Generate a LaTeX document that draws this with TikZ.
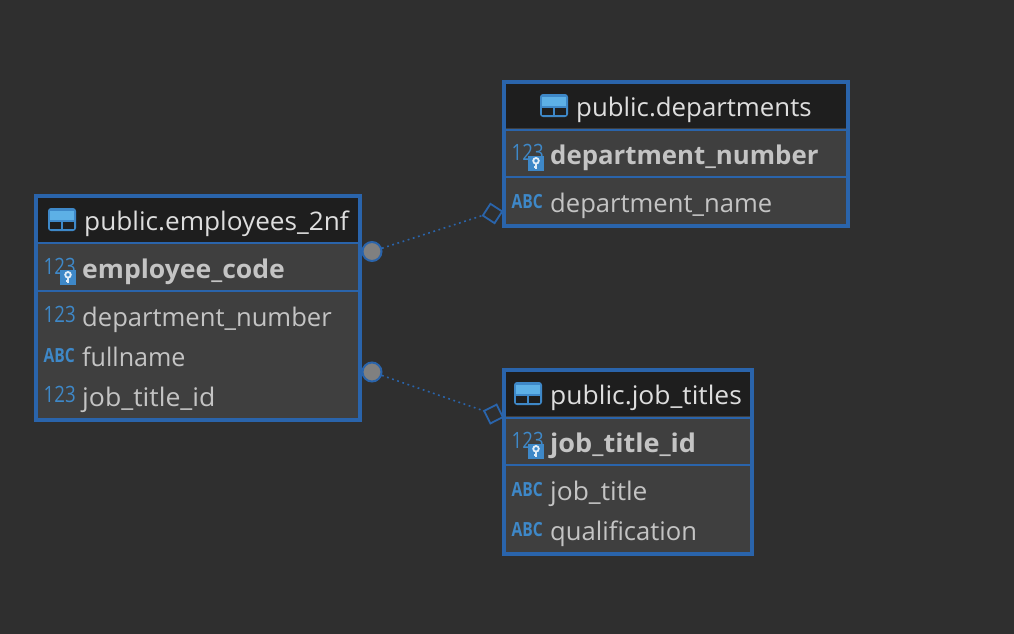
\documentclass[tikz,border=0pt]{standalone}
\usepackage{fontspec}
\setmainfont{Open Sans}
\definecolor{bgc}{HTML}{2F2F2F}
\definecolor{bodyc}{HTML}{3F3F3F}
\definecolor{headc}{HTML}{1E1E1E}
\definecolor{edgec}{HTML}{2A64AB}
\definecolor{txtc}{HTML}{C4C4C4}
\definecolor{headtxt}{HTML}{DEDEDE}
\definecolor{iconc}{HTML}{3E88C8}
\definecolor{iconl}{HTML}{5DB0E6}
\definecolor{dotgrey}{HTML}{808080}
\newcommand{\numlabel}{\scalebox{0.83}[1]{123}}
\newcommand{\abclabel}{\scalebox{0.8}[1]{ABC}}
\newcommand{\fitw}[2]{\scalebox{#1}[1]{#2}}
\tikzset{
  x=1pt,y=-1pt,
  tablebox/.style={draw=edgec,line width=4pt,fill=bodyc,anchor=north west,inner sep=0pt,outer sep=0pt},
  headtext/.style={anchor=base west,inner sep=0pt,text=headtxt,font=\fontsize{25.6}{28}\selectfont},
  keytext/.style={anchor=base west,inner sep=0pt,text=txtc,font=\fontsize{25.8}{28}\selectfont\bfseries},
  coltext/.style={anchor=base west,inner sep=0pt,text=txtc,font=\fontsize{25.6}{28}\selectfont},
  numtext/.style={anchor=base west,inner sep=0pt,text=iconc,font=\fontsize{22.5}{24}\selectfont},
  abctext/.style={anchor=base west,inner sep=0pt,text=iconc,font=\fontsize{19.5}{22}\selectfont\bfseries},
  strongline/.style={edgec,line width=2.6pt},
  thinline/.style={edgec,line width=1.5pt},
  endcircle/.style={circle,draw=edgec,fill=dotgrey,line width=2pt,minimum size=19pt,inner sep=0pt},
  enddiamond/.style={rectangle,draw=edgec,line width=1.8pt,minimum size=14pt,inner sep=0pt},
  relation/.style={edgec,line width=1.6pt,dash pattern=on 1.8pt off 3.6pt},
}
% table icon: top-left corner at #1,#2
\newcommand{\tblicon}[2]{%
  \begin{scope}[shift={(#1,#2)}]
    \fill[rounded corners=3pt,fill=iconc] (0,0) rectangle (28,23);
    \fill[iconl] (2,2.5) rectangle (26,11.5);
    \fill[headc] (2,13.5) rectangle (13.4,20.5);
    \fill[headc] (14.6,13.5) rectangle (26,20.5);
  \end{scope}}
% key badge: top-left corner at #1,#2
\newcommand{\keyicon}[2]{%
  \begin{scope}[shift={(#1,#2)}]
    \fill[iconc] (0,0) rectangle (16,14.5);
    \draw[white!85!iconc,line width=1.8pt] (8,4.8) circle (2.8);
    \draw[white!85!iconc,line width=2pt] (8,7.5) -- (8,13) (8,11) -- (5.5,11);
  \end{scope}}
\begin{document}
\begin{tikzpicture}
\useasboundingbox (0,0) rectangle (1014,634);
\fill[bgc] (0,0) rectangle (1014,634);

% employees table
\node[tablebox,minimum width=323.5pt,minimum height=223.5pt] (emp) at (36,196) {};
\fill[headc] (38,198) rectangle (357.5,242);
\draw[strongline] (emp.west |- 0,243) -- (emp.east |- 0,243);
\draw[thinline] (emp.west |- 0,291) -- (emp.east |- 0,291);
\tblicon{48}{208}
\node[headtext] (emph) at (84,230) {\fitw{1.023}{public.employees\_2nf}};
\node[numtext] (empn1) at (43.5,274) {\numlabel};
\keyicon{60}{270}
\node[keytext] (empk) at (82,278) {\fitw{1.03}{employee\_code}};
\node[numtext] (empn2) at (43.5,322) {\numlabel};
\node[coltext] (empc1) at (82,326) {department\_number};
\node[abctext] (empa) at (43.5,362) {\abclabel};
\node[coltext] (empc2) at (82,366) {\fitw{0.98}{fullname}};
\node[numtext] (empn3) at (43.5,402) {\numlabel};
\node[coltext] (empc3) at (82,406) {\fitw{1.04}{job\_title\_id}};

% departments table
\node[tablebox,minimum width=343.5pt,minimum height=143.5pt] (dep) at (504,82) {};
\fill[headc] (506,84) rectangle (845.5,128);
\draw[strongline] (dep.west |- 0,130) -- (dep.east |- 0,130);
\draw[thinline] (dep.west |- 0,177) -- (dep.east |- 0,177);
\tblicon{540}{94}
\node[headtext] (deph) at (576,116) {\fitw{1.008}{public.departments}};
\node[numtext] (depn1) at (511.5,160) {\numlabel};
\keyicon{528}{156}
\node[keytext] (depk) at (550,164) {department\_number};
\node[abctext] (depa) at (511.5,208) {\abclabel};
\node[coltext] (depc1) at (550,212) {department\_name};

% job titles table
\node[tablebox,minimum width=247.5pt,minimum height=183.5pt] (job) at (504,370) {};
\fill[headc] (506,372) rectangle (749.5,416);
\draw[strongline] (job.west |- 0,418) -- (job.east |- 0,418);
\draw[thinline] (job.west |- 0,465) -- (job.east |- 0,465);
\tblicon{514}{382}
\node[headtext] (jobh) at (550,404) {\fitw{1.032}{public.job\_titles}};
\node[numtext] (jobn1) at (511.5,448) {\numlabel};
\keyicon{528}{444}
\node[keytext] (jobk) at (550,452) {\fitw{1.05}{job\_title\_id}};
\node[abctext] (joba1) at (511.5,496) {\abclabel};
\node[coltext] (jobc1) at (550,500) {\fitw{1.03}{job\_title}};
\node[abctext] (joba2) at (511.5,536) {\abclabel};
\node[coltext] (jobc2) at (550,540) {qualification};

% relations
\node[endcircle] (c1) at (372,251.5) {};
\node[endcircle] (c2) at (372,372) {};
\node[enddiamond,rotate=-33] (d1) at (492.5,213.5) {};
\node[enddiamond,rotate=27] (d2) at (493.5,414) {};
\draw[relation] (c1) -- (d1.south west);
\draw[relation] (c2) -- (d2.north west);
\end{tikzpicture}
\end{document}
